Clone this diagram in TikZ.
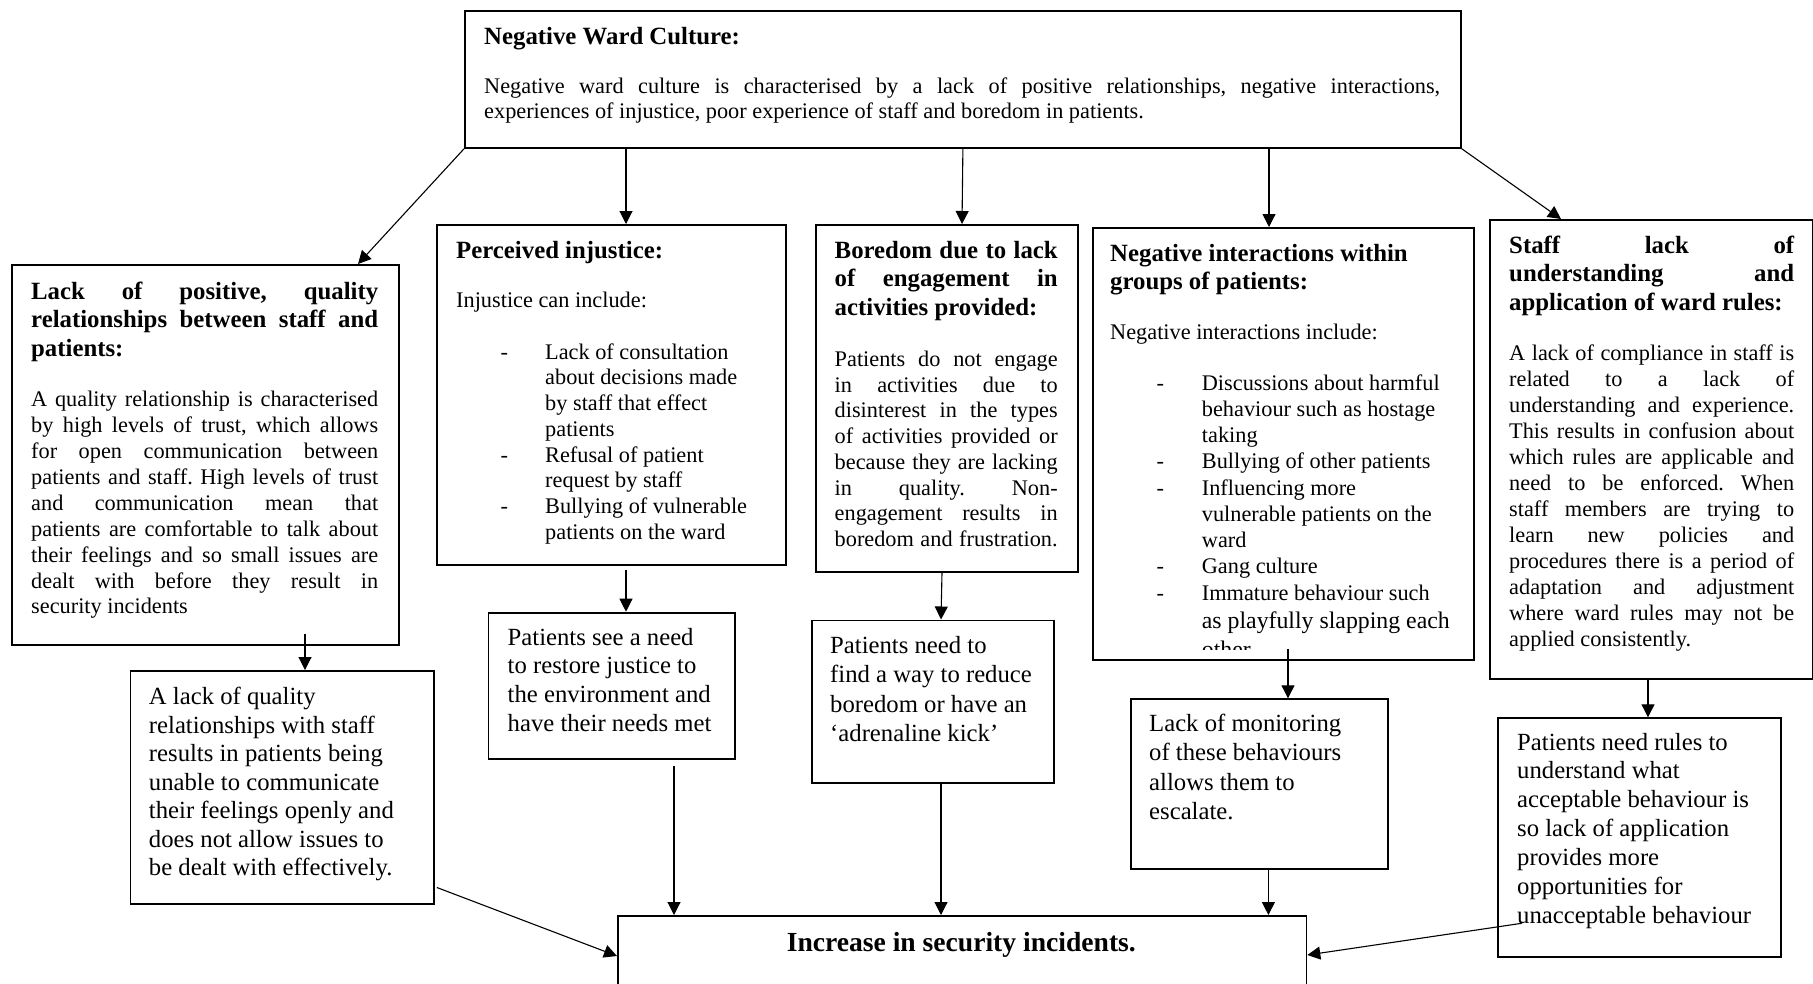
\documentclass[tikz,border=0pt]{standalone}
\usepackage{fontspec}
\setmainfont{Liberation Serif}
\usetikzlibrary{arrows.meta}
\newcommand\JL[1]{\par\noindent\hbox to\hsize{\frenchspacing\spaceskip=.25em plus 1fil minus .06em\xspaceskip=\spaceskip\strut #1}\par}
\newcommand\LL[1]{\par\noindent\hbox to\hsize{\frenchspacing\spaceskip=.25em\xspaceskip=\spaceskip\strut #1\hfil}\par}
\newcommand\FTi{\fontsize{24.8}{28.5}\selectfont\bfseries}
\newcommand\FBo[1]{\fontsize{22.3}{#1}\selectfont}
\newcommand\FLo[1]{\fontsize{24.7}{#1}\selectfont}
\newcommand\DI[2]{\hspace*{#1}\makebox[#2][l]{-}}
\begin{document}
\begin{tikzpicture}[x=1pt,y=-1pt,
  box/.style={draw=black, line width=1.8pt, inner sep=0pt, anchor=north west},
  txt/.style={inner sep=0pt, anchor=north west, align=left},
  arr/.style={draw=black, line width=1.1pt, -{Triangle[length=13pt,width=13pt]}}]
\clip (0,0) rectangle (1813,983);
\fill[white] (0,0) rectangle (1813,983);
% boxes
\node[box, minimum width=996pt, minimum height=137pt] (top) at (464,10) {};
\node[box, minimum width=387pt, minimum height=380pt] (b1) at (11,264) {};
\node[box, minimum width=349pt, minimum height=340pt] (pj) at (436,224) {};
\node[box, minimum width=262pt, minimum height=347pt] (bd) at (815,224) {};
\node[box, minimum width=381pt, minimum height=432pt] (ng) at (1092,227) {};
\node[box, minimum width=322.6pt, minimum height=458.7pt] (st) at (1489,219) {};
\node[box, minimum width=303.6pt, minimum height=232.7pt] (lq) at (129.5,670) {};
\node[box, minimum width=246.5pt, minimum height=146pt] (ps) at (487.5,611.7) {};
\node[box, minimum width=242.4pt, minimum height=162.4pt] (pn) at (811,619.5) {};
\node[box, minimum width=257pt, minimum height=170pt] (lm) at (1130,698.3) {};
\node[box, minimum width=283pt, minimum height=238.4pt] (pr) at (1497,717.3) {};
\node[box, minimum width=688.5pt, minimum height=120pt] (inc) at (617,915) {};
% arrows
\draw[arr] (top.south west) -- ([xshift=347pt]b1.north west);
\draw[arr] ([xshift=162pt]top.south west) -- ([xshift=190pt]pj.north west);
\draw[arr] (top.south) -- ([xshift=147pt]bd.north west);
\draw[arr] ([xshift=805pt]top.south west) -- ([xshift=177pt]ng.north west);
\draw[arr] (top.south east) -- ([xshift=72pt]st.north west);
\draw[arr] ([xshift=294pt,yshift=12pt]b1.south west) -- ([xshift=175.5pt]lq.north west);
\draw[arr] ([xshift=190pt,yshift=-4pt]pj.south west) -- ([xshift=138.5pt]ps.north west);
\draw[arr] ([xshift=127pt]bd.south west) -- ([xshift=130pt]pn.north west);
\draw[arr] ([xshift=196pt,yshift=12pt]ng.south west) -- ([xshift=158pt]lm.north west);
\draw[arr] ([xshift=159pt]st.south west) -- ([xshift=151pt]pr.north west);
\draw[arr] ([xshift=2pt,yshift=17pt]lq.south east) -- ([yshift=-41pt]inc.north west);
\draw[arr] ([xshift=186.5pt,yshift=-6pt]ps.south west) -- ([xshift=57pt]inc.north west);
\draw[arr] ([xshift=130pt]pn.south west) -- ([xshift=324pt]inc.north west);
\draw[arr] ([xshift=138.4pt]lm.south west) -- ([xshift=651.4pt]inc.north west);
\draw[arr] ([xshift=24.7pt,yshift=34.2pt]pr.south west) -- ([yshift=-40pt]inc.north east);
% top box text
\node[txt, text width=956pt] (topT) at (484,15.3) {\FTi\LL{Negative Ward Culture:}};
\node[txt, text width=956pt] (topB) at (484,67.6) {\FBo{25.4}\JL{Negative ward culture is characterised by a lack of positive relationships, negative interactions,}\LL{experiences of injustice, poor experience of staff and boredom in patients.}};
% box 1
\node[txt, text width=347pt] (b1T) at (31,270.5) {\FTi\JL{Lack of positive, quality}\JL{relationships between staff and}\LL{patients:}};
\node[txt, text width=347pt] (b1B) at (31,380.6) {\FBo{25.9}\JL{A quality relationship is characterised}\JL{by high levels of trust, which allows}\JL{for open communication between}\JL{patients and staff. High levels of trust}\JL{and communication mean that}\JL{patients are comfortable to talk about}\JL{their feelings and so small issues are}\JL{dealt with before they result in}\LL{security incidents}};
% perceived injustice
\node[txt, text width=320pt] (pjT) at (456,229.5) {\FTi\LL{Perceived injustice:}};
\node[txt, text width=320pt] (pjI) at (456,281.3) {\FBo{25.7}\LL{Injustice can include:}};
\node[txt, text width=320pt] (pjL) at (456,333.3) {\FBo{25.7}\LL{\DI{44.5pt}{44.5pt}Lack of consultation}\LL{\hspace*{89pt}about decisions made}\LL{\hspace*{89pt}by staff that effect}\LL{\hspace*{89pt}patients}\LL{\DI{44.5pt}{44.5pt}Refusal of patient}\LL{\hspace*{89pt}request by staff}\LL{\DI{44.5pt}{44.5pt}Bullying of vulnerable}\LL{\hspace*{89pt}patients on the ward}};
% boredom
\node[txt, text width=223pt] (bdT) at (834.5,229.5) {\FTi\JL{Boredom due to lack}\JL{of engagement in}\LL{activities provided:}};
\node[txt, text width=223pt] (bdB) at (834.5,340.6) {\FBo{25.7}\JL{Patients do not engage}\JL{in activities due to}\JL{disinterest in the types}\JL{of activities provided or}\JL{because they are lacking}\JL{in quality. Non-}\JL{engagement results in}\JL{boredom and frustration.}};
% negative interactions
\node[txt, text width=350pt] (ngT) at (1110,232.5) {\FTi\LL{Negative interactions within}\LL{groups of patients:}};
\node[txt, text width=350pt] (ngI) at (1110,313.6) {\FBo{25.7}\LL{Negative interactions include:}};
\begin{scope}
\clip (1093,228) rectangle (1471,649.5);
\node[txt, text width=350pt] (ngL) at (1110,363.6) {\FBo{26.25}\LL{\DI{46.5pt}{45.2pt}Discussions about harmful}\LL{\hspace*{91.7pt}behaviour such as hostage}\LL{\hspace*{91.7pt}taking}\LL{\DI{46.5pt}{45.2pt}Bullying of other patients}\LL{\DI{46.5pt}{45.2pt}Influencing more}\LL{\hspace*{91.7pt}vulnerable patients on the}\LL{\hspace*{91.7pt}ward}\LL{\DI{46.5pt}{45.2pt}Gang culture}\LL{\DI{46.5pt}{45.2pt}Immature behaviour such}\fontsize{23.8}{28.7}\selectfont\LL{\hspace*{91.7pt}as playfully slapping each}\LL{\hspace*{91.7pt}other}};
\end{scope}
% staff
\node[txt, text width=285pt] (stT) at (1509,224.5) {\FTi\JL{Staff lack of}\JL{understanding and}\LL{application of ward rules:}};
\node[txt, text width=285pt] (stB) at (1509,334.6) {\FBo{26}\JL{A lack of compliance in staff is}\JL{related to a lack of}\JL{understanding and experience.}\JL{This results in confusion about}\JL{which rules are applicable and}\JL{need to be enforced. When}\JL{staff members are trying to}\JL{learn new policies and}\JL{procedures there is a period of}\JL{adaptation and adjustment}\JL{where ward rules may not be}\LL{applied consistently.}};
% lower boxes
\node[txt, text width=280pt] (lqT) at (148.75,675.9) {\FLo{28.5}\LL{A lack of quality}\LL{relationships with staff}\LL{results in patients being}\LL{unable to communicate}\LL{their feelings openly and}\LL{does not allow issues to}\LL{be dealt with effectively.}};
\node[txt, text width=220pt] (psT) at (507.5,615.9) {\FLo{28.9}\LL{Patients see a need}\LL{to restore justice to}\LL{the environment and}\LL{have their needs met}};
\node[txt, text width=220pt] (pnT) at (830,624.2) {\FLo{29.2}\LL{Patients need to}\LL{find a way to reduce}\LL{boredom or have an}\LL{‘adrenaline kick’}};
\node[txt, text width=230pt] (lmT) at (1149,702.5) {\FLo{29.1}\LL{Lack of monitoring}\LL{of these behaviours}\LL{allows them to}\LL{escalate.}};
\node[txt, text width=260pt] (prT) at (1517,720.9) {\FLo{28.9}\LL{Patients need rules to}\LL{understand what}\LL{acceptable behaviour is}\LL{so lack of application}\LL{provides more}\LL{opportunities for}\LL{unacceptable behaviour}};
\node[inner sep=0pt, anchor=base] (incT) at (961.3,951) {\fontsize{27.6}{32}\selectfont\bfseries Increase in security incidents.};
\end{tikzpicture}
\end{document}
